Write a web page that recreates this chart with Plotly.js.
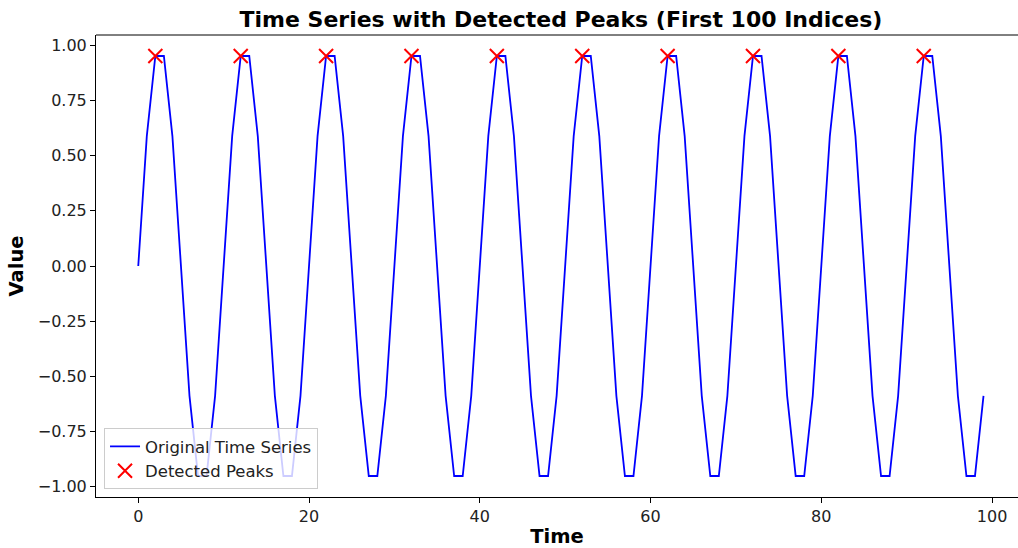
<!DOCTYPE html>
<html>
<head>
<meta charset="utf-8">
<script src="https://cdn.plot.ly/plotly-3.0.1.min.js"></script>
<style>html,body{margin:0;padding:0;background:#fff;}#chart{width:1018px;height:548px;}</style>
</head>
<body>
<div id="chart"></div>
<script>
const time = [0,1,2,3,4,5,6,7,8,9,10,11,12,13,14,15,16,17,18,19,20,21,22,23,24,25,26,27,28,29,30,31,32,33,34,35,36,37,38,39,40,41,42,43,44,45,46,47,48,49,50,51,52,53,54,55,56,57,58,59,60,61,62,63,64,65,66,67,68,69,70,71,72,73,74,75,76,77,78,79,80,81,82,83,84,85,86,87,88,89,90,91,92,93,94,95,96,97,98,99];
const values = [
 0, 0.588, 0.951, 0.951, 0.588, 0, -0.588, -0.951, -0.951, -0.588,
 0, 0.588, 0.951, 0.951, 0.588, 0, -0.588, -0.951, -0.951, -0.588,
 0, 0.588, 0.951, 0.951, 0.588, 0, -0.588, -0.951, -0.951, -0.588,
 0, 0.588, 0.951, 0.951, 0.588, 0, -0.588, -0.951, -0.951, -0.588,
 0, 0.588, 0.951, 0.951, 0.588, 0, -0.588, -0.951, -0.951, -0.588,
 0, 0.588, 0.951, 0.951, 0.588, 0, -0.588, -0.951, -0.951, -0.588,
 0, 0.588, 0.951, 0.951, 0.588, 0, -0.588, -0.951, -0.951, -0.588,
 0, 0.588, 0.951, 0.951, 0.588, 0, -0.588, -0.951, -0.951, -0.588,
 0, 0.588, 0.951, 0.951, 0.588, 0, -0.588, -0.951, -0.951, -0.588,
 0, 0.588, 0.951, 0.951, 0.588, 0, -0.588, -0.951, -0.951, -0.588
];
const peakTimes = [2,12,22,32,42,52,62,72,82,92];
const peakValues = [0.951,0.951,0.951,0.951,0.951,0.951,0.951,0.951,0.951,0.951];
const xTicks = [0,20,40,60,80,100];
const yTicks = [-1.0,-0.75,-0.5,-0.25,0,0.25,0.5,0.75,1.0];
const yTickText = ['−1.00','−0.75','−0.50','−0.25','0.00','0.25','0.50','0.75','1.00'];

const font = 'DejaVu Sans, sans-serif';
const traces = [
  {x: time, y: values, type: 'scatter', mode: 'lines', name: 'Original Time Series',
   line: {color: '#0000ff', width: 1.8}},
  {x: peakTimes, y: peakValues, type: 'scatter', mode: 'markers', name: 'Detected Peaks',
   marker: {symbol: 'x-thin-open', size: 14, color: '#ff0000', line: {color: '#ff0000', width: 2}}}
];
const layout = {
  width: 1018, height: 548,
  margin: {l: 96, r: 0, t: 35, b: 51, pad: 0},
  paper_bgcolor: '#fff', plot_bgcolor: '#fff',
  font: {family: font, size: 16, color: '#222'},
  title: {text: '<b>Time Series with Detected Peaks (First 100 Indices)</b>',
          font: {family: font, size: 22, color: '#000'},
          x: 0.5043, xref: 'paper', xanchor: 'center', y: 1 - 19/548, yref: 'container', yanchor: 'middle'},
  xaxis: {range: [-4.95, 103.04], tickvals: xTicks, ticktext: xTicks.map(String),
          showgrid: false, zeroline: false, showline: true, linecolor: '#000', linewidth: 1,
          mirror: false, ticks: 'outside', ticklen: 5, tickcolor: '#000',
          tickfont: {family: font, size: 16, color: '#222'},
          title: {text: '<b>Time</b>', font: {family: font, size: 19.5, color: '#000'}, standoff: 6}},
  yaxis: {range: [-1.0461, 1.0461], tickvals: yTicks, ticktext: yTickText,
          showgrid: false, zeroline: false, showline: true, linecolor: '#000', linewidth: 1,
          mirror: false, ticks: 'outside', ticklen: 5, tickcolor: '#000',
          tickfont: {family: font, size: 16, color: '#222'},
          title: {text: '<b>Value</b>', font: {family: font, size: 19.5, color: '#000'}, standoff: 8}},
  shapes: [{type: 'line', xref: 'paper', yref: 'paper', x0: 0, x1: 1, y0: 1, y1: 1,
            line: {color: '#000', width: 1}}],
  legend: {x: 0.0087, y: 0.017, xanchor: 'left', yanchor: 'bottom',
           bgcolor: 'rgba(255,255,255,0.8)', bordercolor: '#cccccc', borderwidth: 1,
           font: {family: font, size: 16.5, color: '#222'}, tracegroupgap: 0, itemwidth: 30}
};
Plotly.newPlot('chart', traces, layout, {displayModeBar: false, staticPlot: true});
</script>
</body>
</html>
